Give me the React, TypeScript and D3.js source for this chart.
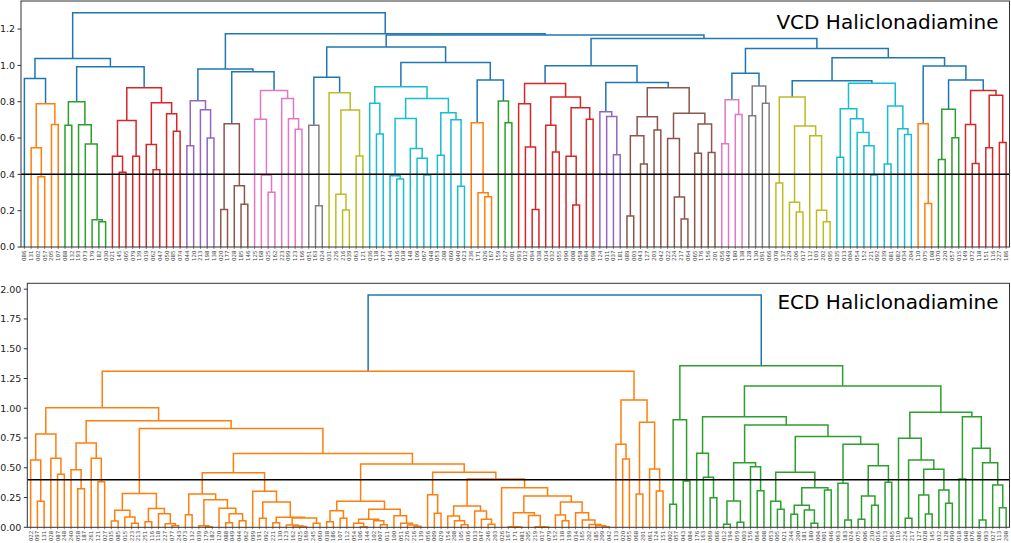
import React, { useEffect, useRef } from 'react';
import * as d3 from 'd3';

// Dendrogram trees written as "(left,right):height", leaves numbered left to right.
// Heights.

// ---- VCD clusters ----
const vcdOrange1 = "(0,((1,(2,3):0.387):0.547,(4,5):0.675):0.789):0.928";
const vcdGreen1 = "((6,7):0.671,(8,(9,(10,(11,12):0.139):0.15):0.567):0.673):0.80";
const vcdRed1 = "(((13,(14,15):0.411):0.50,(16,17):0.50):0.697,((18,(19,20):0.425):0.565,(21,(22,23):0.638):0.734):0.794):0.877";
const vcdPurple1 = "((24,25):0.558,(26,(27,28):0.60):0.756):0.805";
const vcdBrown1 = "((29,30):0.207,(31,(32,33):0.235):0.337):0.678";
const vcdPink1 = "((34,(35,(36,37):0.301):0.396):0.704,(38,(39,(40,41):0.649):0.706):0.818):0.862";
const vcdGray1 = "(42,(43,44):0.227):0.671";
const vcdOlive1 = "(45,((46,(47,48):0.204):0.29,(49,50):0.501):0.754):0.849";
const vcdCyan1 = "((51,(52,53):0.622):0.791,(((54,(55,56):0.374):0.392,(57,(58,(59,60):0.396):0.488):0.543):0.708,((61,62):0.505,(63,(64,65):0.334):0.70):0.739):0.818):0.882";
const vcdOrange2 = "(66,(67,(68,69):0.277):0.299):0.684";
const vcdGreen2 = "(70,(71,72):0.684):0.804";
const vcdRed2 = "((73,(74,(75,76):0.207):0.55):0.789,((77,(78,79):0.523):0.671,((80,(81,82):0.231):0.50,(83,84):0.704):0.767):0.826):0.900";
const vcdPurple2 = "(85,(86,(87,88):0.508):0.719):0.745";
const vcdBrown2 = "((((89,90):0.171,(91,92):0.457):0.613,(93,94):0.644):0.717,((95,(96,(97,98):0.154):0.275):0.598,((99,100):0.516,(101,102):0.521):0.677):0.736):0.877";
const vcdPink2 = "((103,104):0.569,(105,106):0.730):0.811";
const vcdGray2 = "((107,108):0.723,(109,110):0.792):0.886";
const vcdOlive2 = "((111,112):0.352,((113,(114,115):0.193):0.246,(116,(117,(118,119):0.139):0.202):0.613):0.666):0.826";
const vcdCyan2 = "(((120,121):0.494,(122,(123,(124,(125,126):0.396):0.558):0.631):0.706):0.761,((127,128):0.457,(129,(130,131):0.62):0.651):0.776):0.901";
const vcdOrange3 = "(132,(133,134):0.24):0.679";
const vcdGreen3 = "((135,136):0.482,(137,138):0.602):0.758";
const vcdRed3 = "((139,(140,141):0.46):0.675,((142,143):0.547,(144,145):0.575):0.836):0.862";

const vcdP = `(${vcdOrange1},(${vcdGreen1},${vcdRed1}):0.992):1.038`;
const vcdA = `(${vcdPurple1},(${vcdBrown1},${vcdPink1}):0.965):0.98`;
const vcdC = `((${vcdGray1},${vcdOlive1}):0.934,(${vcdCyan1},(${vcdOrange2},${vcdGreen2}):0.919):1.016):1.101`;
const vcdG = `(${vcdRed2},(${vcdPurple2},${vcdBrown2}):0.906):0.998`;
const vcdH = `((${vcdPink2},${vcdGray2}):0.956,((${vcdOlive2},${vcdCyan2}):0.915,(${vcdOrange3},(${vcdGreen3},${vcdRed3}):0.919):0.996):1.042):1.093`;
const vcdTree = `(${vcdP},(${vcdA},(${vcdC},(${vcdG},${vcdH}):1.148):1.167):1.174):1.29`;

// ---- ECD clusters ----
const ecdLeft0 = "((0,(1,2):0.218):0.566,(3,(4,5):0.445):0.58):0.784";
const ecdLeft1 = "((6,(7,8):0.324):0.484,(9,(10,11):0.383):0.58):0.708";
const ecdY = "(((12,13):0.053,(14,(15,16):0.034):0.087):0.143,((17,18):0.047,(19,(20,(21,22):0.014):0.03):0.114):0.157):0.283";
const ecdV = "((23,24):0.106,((25,(26,27):0.005):0.014,(28,((29,30):0.039,(31,32):0.055):0.114):0.16):0.232):0.28";
const ecdW = "(33,((34,35):0.075,((36,37):0.039,((38,(39,(40,41):0.006):0.01):0.02,(42,43):0.034):0.078):0.084):0.212):0.302";
const ecdZ2a = "(((44,45):0.047,(46,47):0.075):0.14,(((48,(49,50):0.005):0.034,(51,(52,53):0.022):0.054):0.067,(54,(55,(56,(57,58):0.008):0.02):0.034):0.097):0.151):0.218";
const ecdN510 = "(59,(60,61):0.118):0.274";
const ecdN615 = "((62,(63,(64,65):0.022):0.055):0.095,(66,(67,(68,69):0.025):0.067):0.137):0.179";
const ecdQ263 = "(((71,(72,73):0.002):0.005,(74,(75,(76,77):0.002):0.005):0.099):0.122,((78,(79,80):0.054):0.103,(81,(82,(83,(84,(85,86):0.005):0.013):0.024):0.061):0.122):0.213):0.263";
const ecdRightOrange = "((87,(88,89):0.574):0.697,((90,91):0.28,(92,(93,94):0.305):0.49):0.882):1.07";
const ecdG1 = "((95,96):0.193,(97,98):0.389):0.904";
const ecdG5 = "(99,(100,(101,102):0.249):0.42):0.622";
const ecdG7 = "(((103,104):0.025,(105,106):0.042):0.221,(107,(108,109):0.308):0.509):0.543";
const ecdG8 = "(((110,(111,112):0.151):0.218,(((113,114):0.109,(115,(116,117):0.034):0.145):0.185,(118,119):0.313):0.333):0.462,((120,(121,122):0.061):0.37,(((123,124):0.067,(125,126):0.185):0.263,(127,128):0.378):0.518):0.697):0.762";
const ecdG9 = "(129,((130,131):0.075,((132,(133,134):0.112):0.271,(135,(136,137):0.201):0.313):0.487):0.565):0.748";
const ecdG10 = "((138,139):0.405,(140,((141,142):0.061,(143,(144,145):0.165):0.355):0.543):0.664):0.929";

const ecdZ = `((${ecdV},${ecdW}):0.459,(${ecdZ2a},(${ecdN510},(${ecdN615},(70,${ecdQ263}):0.333):0.406):0.462):0.532):0.62`;
const ecdOrange = `((${ecdLeft0},(${ecdLeft1},(${ecdY},${ecdZ}):0.829):0.896):1.005,${ecdRightOrange}):1.311`;
const ecdGreen = `(${ecdG1},((${ecdG5},(${ecdG7},${ecdG8}):0.86):0.929,(${ecdG9},${ecdG10}):0.966):1.187):1.358`;
const ecdTree = `(${ecdOrange},${ecdGreen}):1.952`;

const vcdLeafLabels = [
  '086','131','002','057','205','107','088','132','193','073',
  '179','182','030','021','145','065','079','139','019','062',
  '047','050','085','074','044','120','213','198','138','020',
  '177','028','185','146','125','168','025','162','223','099',
  '123','166','051','163','024','031','226','216','039','063',
  '121','036','118','077','144','016','018','148','109','067',
  '048','053','208','060','040','023','236','171','026','167',
  '159','027','001','093','012','094','038','014','032','055',
  '090','008','058','084','098','124','011','037','181','089',
  '003','043','127','203','042','022','224','217','064','065',
  '176','156','201','056','049','180','138','128','130','091',
  '066','078','137','229','206','017','112','103','202','095',
  '035','013','004','054','152','221','092','039','081','082',
  '034','204','110','075','108','070','220','057','015','149',
  '072','118','151','116','227','186'];

const ecdLeafLabels = [
  '022','097','131','028','087','248','240','058','187','261',
  '121','027','035','085','015','223','213','251','116','118',
  '227','077','243','073','132','039','179','182','120','088',
  '049','044','062','099','191','092','221','130','123','162',
  '025','169','245','060','038','186','107','112','054','106',
  '144','102','007','011','100','051','226','216','139','056',
  '009','029','154','208','105','036','033','047','246','203',
  '026','167','171','081','205','219','017','079','152','138',
  '199','034','165','202','185','209','042','133','020','055',
  '068','201','061','124','151','002','057','043','084','176',
  '163','069','066','012','194','059','003','156','064','008',
  '053','005','021','244','200','181','180','004','001','046',
  '063','183','024','075','006','230','016','013','065','110',
  '224','217','127','028','145','032','128','090','018','048',
  '076','086','093','027','113','208'];

const vcdYTicks = [0, 0.2, 0.4, 0.6, 0.8, 1.0, 1.2];
const ecdYTicks = [0, 0.25, 0.5, 0.75, 1.0, 1.25, 1.5, 1.75, 2.0];
const cutLine = 0.4;

const palette = ['#ff7f0e', '#2ca02c', '#d62728', '#9467bd', '#8c564b', '#e377c2', '#7f7f7f', '#bcbd22', '#17becf'];
const aboveColor = '#1f77b4';

interface TreeNode {
  h: number;
  leaf?: number;
  kids?: [TreeNode, TreeNode];
  x?: number;
  color?: string;
}

function parseTree(src: string): TreeNode {
  const s = src.replace(/\s+/g, '');
  let i = 0;
  const num = () => {
    const m = /^[\d.]+/.exec(s.slice(i))!;
    i += m[0].length;
    return +m[0];
  };
  const node = (): TreeNode => {
    if (s[i] === '(') {
      i++;
      const a = node();
      i++; // ,
      const b = node();
      i++; // )
      i++; // :
      return { h: num(), kids: [a, b] };
    }
    return { h: 0, leaf: num() };
  };
  return node();
}

function layout(n: TreeNode): number {
  if (!n.kids) {
    n.x = 5 + 10 * n.leaf!;
  } else {
    n.x = (layout(n.kids[0]) + layout(n.kids[1])) / 2;
  }
  return n.x;
}

function paint(n: TreeNode, color: string) {
  if (!n.kids) return;
  n.color = color;
  paint(n.kids[0], color);
  paint(n.kids[1], color);
}

function assignColors(n: TreeNode, thr: number, state: { k: number }) {
  if (!n.kids) return;
  if (n.h < thr) {
    paint(n, palette[state.k % palette.length]);
    state.k++;
    return;
  }
  n.color = aboveColor;
  assignColors(n.kids[0], thr, state);
  assignColors(n.kids[1], thr, state);
}

function collect(n: TreeNode, out: TreeNode[]) {
  if (!n.kids) return;
  out.push(n);
  collect(n.kids[0], out);
  collect(n.kids[1], out);
}

interface PanelCfg {
  tree: string;
  labels: string[];
  yTicks: number[];
  digits: number;
  title: string;
  left: number;
  right: number;
  top: number;
  bottom: number;
  titleY: number;
}

const panels: PanelCfg[] = [
  { tree: vcdTree, labels: vcdLeafLabels, yTicks: vcdYTicks, digits: 1, title: 'VCD Haliclonadiamine',
    left: 21, right: 1009.5, top: 1, bottom: 247, titleY: 28.5 },
  { tree: ecdTree, labels: ecdLeafLabels, yTicks: ecdYTicks, digits: 2, title: 'ECD Haliclonadiamine',
    left: 27.3, right: 1009.5, top: 283.3, bottom: 527.3, titleY: 308.5 },
];

function drawPanel(svg: d3.Selection<SVGSVGElement, unknown, null, undefined>, cfg: PanelCfg) {
  const root = parseTree(cfg.tree);
  layout(root);
  assignColors(root, 0.7 * root.h, { k: 0 });
  const nLeaves = cfg.labels.length;

  const x = d3.scaleLinear().domain([0, 10 * nLeaves]).range([cfg.left, cfg.right]);
  const y = d3.scaleLinear().domain([0, root.h * 1.05]).range([cfg.bottom, cfg.top]);

  const g = svg.append('g');

  // links
  const nodes: TreeNode[] = [];
  collect(root, nodes);
  g.selectAll('path.link')
    .data(nodes)
    .enter()
    .append('path')
    .attr('class', 'link')
    .attr('fill', 'none')
    .attr('stroke', d => d.color!)
    .attr('stroke-width', 1.5)
    .attr('d', d => {
      const [a, b] = d.kids!;
      return `M${x(a.x!)},${y(a.h)}V${y(d.h)}H${x(b.x!)}V${y(b.h)}`;
    });

  // cut line
  g.append('line')
    .attr('x1', cfg.left).attr('x2', cfg.right)
    .attr('y1', y(cutLine)).attr('y2', y(cutLine))
    .attr('stroke', '#000').attr('stroke-width', 1.5);

  // frame
  g.append('rect')
    .attr('x', cfg.left).attr('y', cfg.top)
    .attr('width', cfg.right - cfg.left).attr('height', cfg.bottom - cfg.top)
    .attr('fill', 'none').attr('stroke', '#333').attr('stroke-width', 1);

  // y axis
  const yt = g.append('g');
  cfg.yTicks.forEach(t => {
    yt.append('line')
      .attr('x1', cfg.left - 3.5).attr('x2', cfg.left)
      .attr('y1', y(t)).attr('y2', y(t))
      .attr('stroke', '#333').attr('stroke-width', 1);
    yt.append('text')
      .attr('x', cfg.left - 6)
      .attr('y', y(t))
      .attr('dy', '0.35em')
      .attr('text-anchor', 'end')
      .style('font-family', 'DejaVu Sans')
      .style('font-size', '9.5px')
      .style('fill', '#222')
      .text(t.toFixed(cfg.digits));
  });

  // leaf labels
  const xt = g.append('g');
  cfg.labels.forEach((lab, i) => {
    const px = x(5 + 10 * i);
    xt.append('line')
      .attr('x1', px).attr('x2', px)
      .attr('y1', cfg.bottom).attr('y2', cfg.bottom + 2)
      .attr('stroke', '#333').attr('stroke-width', 0.6);
    xt.append('text')
      .attr('transform', `translate(${px},${cfg.bottom + 3.5}) rotate(-90)`)
      .attr('dy', '0.35em')
      .attr('text-anchor', 'end')
      .style('font-family', 'DejaVu Sans')
      .style('font-size', '5.5px')
      .style('fill', '#444')
      .text(lab);
  });

  // title
  g.append('text')
    .attr('x', 998.5)
    .attr('y', cfg.titleY)
    .attr('text-anchor', 'end')
    .style('font-family', 'DejaVu Sans')
    .style('font-size', '20px')
    .style('fill', '#000')
    .text(cfg.title);
}

const App: React.FC = () => {
  const svgRef = useRef<SVGSVGElement>(null);

  useEffect(() => {
    const svg = d3.select(svgRef.current!);
    svg.selectAll('*').remove();
    svg.append('rect').attr('width', 1011).attr('height', 543).attr('fill', '#fff');
    panels.forEach(p => drawPanel(svg as any, p));
  }, []);

  return (
    <svg
      ref={svgRef}
      width={1011}
      height={543}
      style={{ position: 'absolute', left: 0, top: 0, display: 'block' }}
    />
  );
};

export default App;
